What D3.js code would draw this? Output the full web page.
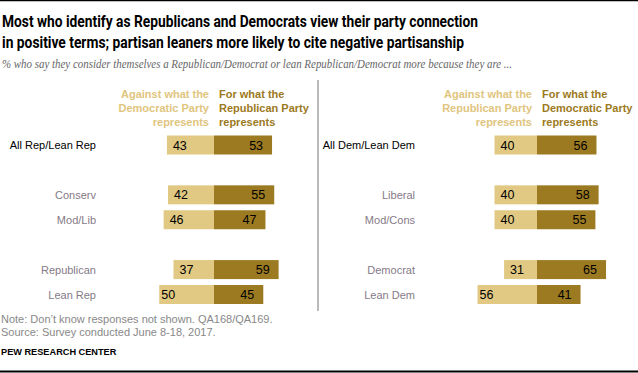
<!DOCTYPE html>
<html><head><meta charset="utf-8">
<script src="https://cdn.jsdelivr.net/npm/d3@7"></script>
<style>
html,body{margin:0;padding:0;background:#fff;}
svg{display:block;}
</style></head>
<body>
<script>
// ---- data ----
const leftCategories = ["All Rep/Lean Rep", "Conserv", "Mod/Lib", "Republican", "Lean Rep"];
const leftAgainst = [43, 42, 46, 37, 50];
const leftFor = [53, 55, 47, 59, 45];
const rightCategories = ["All Dem/Lean Dem", "Liberal", "Mod/Cons", "Democrat", "Lean Dem"];
const rightAgainst = [40, 40, 40, 31, 56];
const rightFor = [56, 58, 55, 65, 41];
const leftHeaders = [["Against what the", "Democratic Party", "represents"], ["For what the", "Republican Party", "represents"]];
const rightHeaders = [["Against what the", "Republican Party", "represents"], ["For what the", "Democratic Party", "represents"]];
const titleLines = ["Most who identify as Republicans and Democrats view their party connection",
                    "in positive terms; partisan leaners more likely to cite negative partisanship"];
const subtitle = "% who say they consider themselves a Republican/Democrat or lean Republican/Democrat more because they are ...";
const notes = ["Note: Don\u2019t know responses not shown. QA168/QA169.", "Source: Survey conducted June 8-18, 2017."];
const credit = "PEW RESEARCH CENTER";

const W = 638, H = 373;
const LIGHT = "#E1C983", DARK = "#9C7A22";
const svg = d3.select("body").append("svg").attr("width", W).attr("height", H);
const sans = "'Liberation Sans', Arial, sans-serif";

svg.append("line").attr("x1", 0).attr("x2", W).attr("y1", 0.5).attr("y2", 0.5).attr("stroke", "#000").attr("stroke-width", 1.5);
svg.append("line").attr("x1", 0).attr("x2", W).attr("y1", 371.5).attr("y2", 371.5).attr("stroke", "#000").attr("stroke-width", 2);

const titleW = [476, 462];
svg.selectAll("text.title").data(titleLines).join("text").attr("class", "title")
  .attr("x", 2).attr("y", (d, i) => 27 + i * 21)
  .attr("textLength", (d, i) => titleW[i]).attr("lengthAdjust", "spacingAndGlyphs")
  .style("font-family", "Roboto, sans-serif").style("font-weight", 700).style("font-size", "17px").attr("fill", "#000")
  .text(d => d);

svg.append("text").attr("x", 2).attr("y", 68)
  .attr("textLength", 510).attr("lengthAdjust", "spacingAndGlyphs")
  .style("font-family", "'Liberation Serif', serif").style("font-style", "italic").style("font-size", "12px").attr("fill", "#666")
  .text(subtitle);

// row layout: groups separated by gaps
const slot = [0, 2, 3, 5, 6];
const y = d3.scaleLinear().domain([0, 6]).range([145, 294.5]);
const barH = 19;

function panel(cats, against, forv, headers, center, pxPerUnit, labelRight) {
  const x = d3.scaleLinear().domain([0, 100]).range([0, 100 * pxPerUnit]);
  const g = svg.append("g");
  const rows = cats.map((c, i) => ({c, a: against[i], f: forv[i], i}));
  headers.forEach((lines, k) => {
    g.selectAll(null).data(lines).join("text")
      .attr("x", k === 0 ? center - 5 : center + 5)
      .attr("y", (d, i) => 98 + i * 14)
      .attr("text-anchor", k === 0 ? "end" : "start")
      .style("font-family", sans).style("font-weight", 700).style("font-size", "11px")
      .attr("fill", k === 0 ? "#E0C57E" : DARK)
      .text(d => d);
  });
  g.selectAll("rect.a").data(rows).join("rect").attr("class", "a")
    .attr("x", d => center - x(d.a)).attr("width", d => x(d.a))
    .attr("y", d => y(slot[d.i]) - barH / 2).attr("height", barH).attr("fill", LIGHT);
  g.selectAll("rect.f").data(rows).join("rect").attr("class", "f")
    .attr("x", center).attr("width", d => x(d.f))
    .attr("y", d => y(slot[d.i]) - barH / 2).attr("height", barH).attr("fill", DARK);
  g.selectAll("text.va").data(rows).join("text").attr("class", "va")
    .attr("x", d => center - x(d.a) + (d.a >= 50 ? 2 : 6)).attr("y", d => y(slot[d.i]) + 4.5)
    .style("font-family", sans).style("font-size", "12.5px").attr("fill", "#000")
    .text(d => d.a);
  g.selectAll("text.vf").data(rows).join("text").attr("class", "vf")
    .attr("x", d => center + x(d.f) - 9).attr("y", d => y(slot[d.i]) + 4.5).attr("text-anchor", "end")
    .style("font-family", sans).style("font-size", "12.5px").attr("fill", "#000")
    .text(d => d.f);
  g.selectAll("text.cat").data(rows).join("text").attr("class", "cat")
    .attr("x", labelRight).attr("y", d => y(slot[d.i]) + 4).attr("text-anchor", "end")
    .style("font-family", sans).style("font-size", "11px")
    .attr("fill", d => d.i === 0 ? "#000" : "#857a88")
    .text(d => d.c);
}

panel(leftCategories, leftAgainst, leftFor, leftHeaders, 214, 1.095, 96);
panel(rightCategories, rightAgainst, rightFor, rightHeaders, 537, 1.062, 415);

svg.append("line").attr("x1", 318).attr("x2", 318).attr("y1", 80).attr("y2", 311)
  .attr("stroke", "#777").attr("stroke-width", 1);

svg.selectAll("text.note").data(notes).join("text").attr("class", "note")
  .attr("x", 1).attr("y", (d, i) => 323 + i * 12.5)
  .style("font-family", sans).style("font-size", "11px").attr("fill", "#888")
  .text(d => d);
svg.append("text").attr("x", 1).attr("y", 355)
  .style("font-family", sans).style("font-weight", 700).style("font-size", "9.2px").attr("fill", "#000")
  .text(credit);
</script>
</body></html>
